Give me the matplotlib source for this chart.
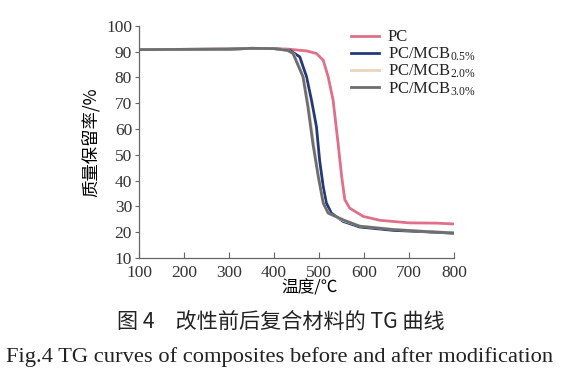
import matplotlib; matplotlib.use("Agg")
import matplotlib.pyplot as plt
import numpy as np

plt.rcParams.update({"font.family": ["Liberation Serif", "Noto Sans CJK SC"],
                     "mathtext.fontset": "custom", "mathtext.rm": "Liberation Serif",
                     "mathtext.it": "Liberation Serif", "text.color": "#222222"})

# temperature (°C) and mass retention (%)
t_pc = [100, 200, 300, 350, 400, 430, 472, 494, 509, 520, 531, 542, 550, 557, 568, 598, 635, 700, 760, 797]
m_pc = [90.8, 90.9, 91.0, 91.3, 91.2, 91.0, 90.3, 89.3, 86.7, 80.3, 71.2, 54.5, 41.6, 32.6, 29.3, 26.1, 24.6, 23.6, 23.5, 23.2]

t_05 = [100, 200, 300, 350, 400, 435, 457, 472, 483, 494, 501, 509, 516, 527, 553, 590, 664, 730, 797]
m_05 = [90.8, 90.9, 91.0, 91.3, 91.2, 90.5, 88.0, 80.3, 71.2, 60.9, 48.0, 37.7, 31.3, 27.4, 24.2, 22.0, 20.7, 20.2, 19.6]

t_20 = [100, 200, 300, 350, 400, 430, 444, 466, 478, 489, 500, 511, 522, 553, 590, 664, 730, 797]
m_20 = [90.8, 90.9, 91.0, 91.3, 91.2, 90.6, 89.0, 80.0, 67.0, 53.0, 40.0, 30.5, 27.2, 24.6, 22.4, 21.1, 20.4, 19.8]

t_30 = [100, 200, 300, 350, 400, 430, 442, 464, 475, 486, 498, 509, 520, 553, 590, 664, 730, 797]
m_30 = [90.8, 90.9, 91.0, 91.3, 91.2, 90.5, 89.3, 80.3, 68.7, 54.5, 41.6, 31.3, 27.4, 24.8, 22.3, 21.0, 20.3, 19.7]

labels = ["PC", r"PC/MCB$_{0.5\%}$", r"PC/MCB$_{2.0\%}$", r"PC/MCB$_{3.0\%}$"]
colors = ["#E07088", "#22397A", "#E9D5C0", "#6E6E70"]

fig = plt.figure(figsize=(5.65, 3.81), dpi=100)
fig.patch.set_facecolor("white")
ax = fig.add_axes([0.246, 0.323, 0.558, 0.609])

for t, m, lab, c in zip([t_pc, t_05, t_20, t_30], [m_pc, m_05, m_20, m_30], labels, colors):
    ax.plot(t, m, color=c, lw=2.0, label=lab)

ax.set_xlim(100, 800); ax.set_ylim(10, 100)
ax.set_xticks(np.arange(100, 801, 100)); ax.set_yticks(np.arange(10, 101, 10))
ax.tick_params(length=4, labelsize=12.5, color="#666666", width=0.8, labelcolor="#333333")
ax.tick_params(axis="x", direction="in", pad=5)
ax.tick_params(axis="y", direction="out", length=3, pad=2)
for sp in ["top", "right"]: ax.spines[sp].set_visible(False)
for sp in ["left", "bottom"]: ax.spines[sp].set_color("#666666"); ax.spines[sp].set_linewidth(0.9)
ax.set_xlabel("温度/℃", fontsize=12, family=["Noto Sans CJK SC"], labelpad=0)
ax.xaxis.set_label_coords(0.54, -0.095)
ax.set_ylabel("质量保留率/%", fontsize=12.5, family=["Noto Sans CJK SC"], labelpad=4)

leg = ax.legend(loc="upper left", bbox_to_anchor=(0.635, 1.035), frameon=False, fontsize=12,
                handlelength=1.7, labelspacing=0.0, handletextpad=0.5, borderpad=0.2)

fig.text(0.497, 0.152, "图 4　改性前后复合材料的 TG 曲线", ha="center", va="center", fontsize=15.2,
         family=["Noto Sans CJK SC", "Liberation Serif"])
fig.text(0.494, 0.062, "Fig.4 TG curves of composites before and after modification", ha="center",
         va="center", fontsize=16.2)

fig.savefig("out.png", facecolor="white")
